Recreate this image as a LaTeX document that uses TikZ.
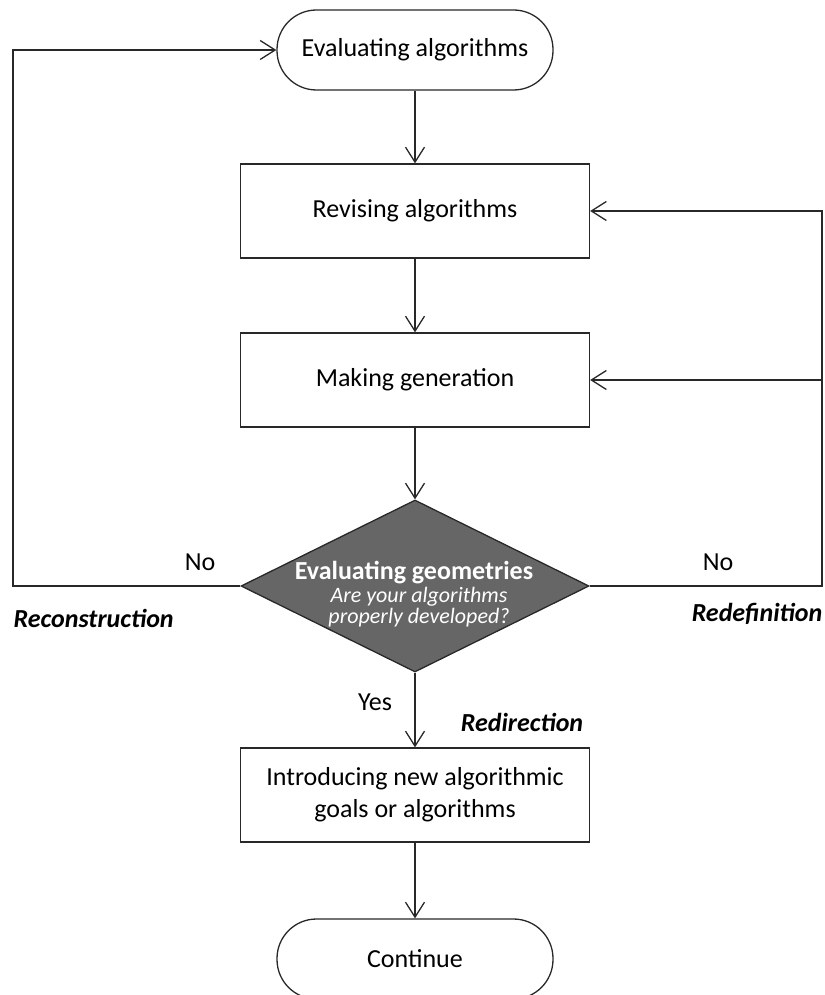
\documentclass[tikz,border=0pt]{standalone}
\usepackage{fontspec}
\setmainfont{Carlito}
\usetikzlibrary{arrows.meta,shapes.geometric}
\begin{document}
\begin{tikzpicture}[x=1pt,y=-1pt,
  line width=1.3pt, draw={rgb,255:red,40;green,40;blue,40},
  every node/.style={font=\fontsize{26}{32}\selectfont},
  flow/.style={-{Straight Barb[length=15pt,width=19pt,line width=1.3pt]}},
  terminal/.style={draw, rectangle, rounded corners=39.5pt, minimum width=276pt, minimum height=80pt, inner sep=0pt},
  procbox/.style={draw, rectangle, minimum width=349pt, minimum height=94pt, align=center, inner sep=0pt},
  decision/.style={draw, diamond, fill={rgb,255:red,102;green,102;blue,102}, minimum width=348pt, minimum height=172pt, inner sep=0pt, aspect=2},
  dtext/.style={text=white, inner sep=0pt, anchor=base},
  dital/.style={dtext, font=\fontsize{22}{25}\selectfont\itshape},
  lbl/.style={inner sep=0pt},
  blbl/.style={inner sep=0pt, font=\fontsize{26}{30}\selectfont\bfseries\itshape}
]
\useasboundingbox (0,0) rectangle (824,995);
\node[terminal] (t1) at (415,50) {Evaluating algorithms};
\node[procbox] (b1) at (415,211) {Revising algorithms};
\node[procbox] (b2) at (415,380) {Making generation};
\node[decision] (d) at (415,586) {};
\node[dtext, font=\fontsize{26}{30}\selectfont\bfseries] (dt1) at (414,579) {Evaluating geometries};
\node[dital] (dt2) at (419,602) {Are your algorithms};
\node[dital] (dt3) at (419,623) {properly developed?};
\node[procbox] (b3) at (415,795) {Introducing new algorithmic\\goals or algorithms};
\node[terminal] (t2) at (415,959) {Continue};
\coordinate (L) at (13,586);
\coordinate (R) at (822,586);

\draw[flow] (t1) -- (b1);
\draw[flow] (b1) -- (b2);
\draw[flow] (b2) -- (d);
\draw[flow] (d) -- (b3);
\draw[flow] (b3) -- (t2);
\draw[flow] (d.west) -- (L) |- (t1.west);
\draw[flow] (d.east) -- (R) |- (b1.east);
\draw[flow] (R |- b2.east) -- (b2.east);

\node[lbl] (no1) at (200,562) {No};
\node[lbl] (no2) at (718,562) {No};
\node[lbl] (yes) at (375,702) {Yes};
\node[blbl, anchor=west] (rc) at (13,618) {Reconstruction};
\node[blbl, anchor=east] (rd) at (823,614) {Redefinition};
\node[blbl] (rr) at (522,722) {Redirection};
\end{tikzpicture}
\end{document}
